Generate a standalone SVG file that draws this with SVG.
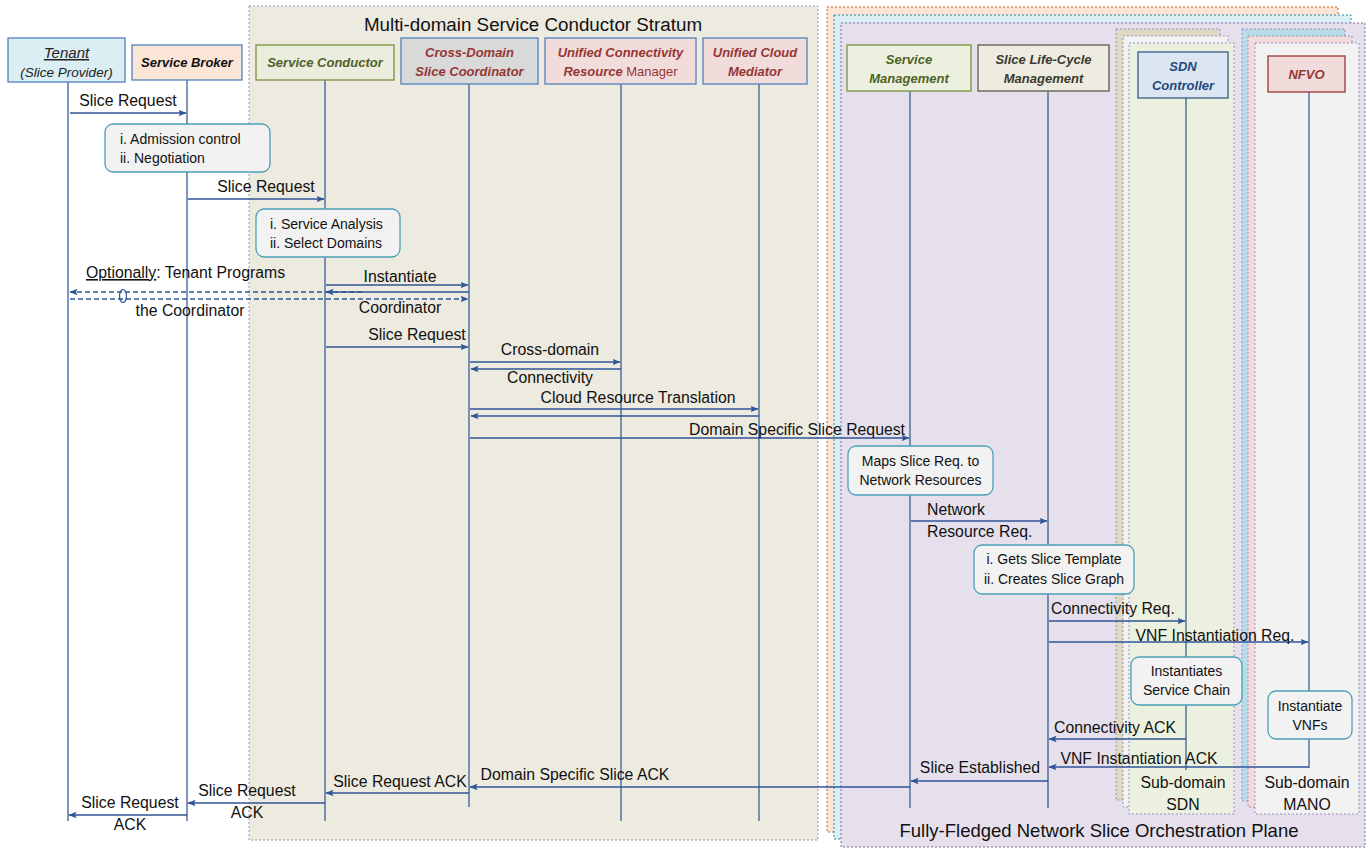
<svg xmlns="http://www.w3.org/2000/svg" width="1372" height="848" viewBox="0 0 1372 848">
<defs>
<marker id="ah" viewBox="0 0 8 8" refX="7.5" refY="4" markerWidth="8" markerHeight="8" markerUnits="userSpaceOnUse" orient="auto-start-reverse">
<path d="M0,0.8 L8,4 L0,7.2 L1.5,4 Z" fill="#2f5597"/>
</marker>
<style>
text{font-family:"Liberation Sans",Arial,sans-serif;}
.lbl{font-size:15.8px;fill:#111;}
.note{font-size:14px;fill:#111;}
.nt{font-size:13px;font-weight:bold;font-style:italic;}
.frame{stroke-dasharray:2,2;stroke-width:1;}
.life{stroke:#3a5f95;stroke-width:1.3;fill:none;}
.msg{stroke:#2f5597;stroke-width:1.3;fill:none;marker-end:url(#ah);}
.dash{stroke:#2f5597;stroke-width:1.3;fill:none;stroke-dasharray:5,3;marker-end:url(#ah);}
.nb{fill:#f2f2f2;stroke:#4aa0b8;stroke-width:1.3;}
</style>
</defs>
<rect width="1372" height="848" fill="#ffffff"/>

<!-- Stratum -->
<g id="stratum">
<rect x="249" y="6" width="569" height="834" fill="#edeae0" stroke="#9d8fc0" class="frame"/>
<text x="533" y="31" text-anchor="middle" font-size="18.8" fill="#111">Multi-domain Service Conductor Stratum</text>
</g>

<!-- Orchestration plane frames -->
<g id="plane">
<rect x="827" y="7" width="511" height="825" fill="#fbe5d6" stroke="#c55a11" class="frame"/>
<rect x="834" y="15" width="517" height="824" fill="#dbeef4" stroke="#31859c" class="frame"/>
<rect x="841" y="23" width="524" height="824" fill="#e5e0ec" stroke="#8064a2" class="frame"/>
<text x="1099" y="837" text-anchor="middle" font-size="18.5" fill="#111">Fully-Fledged Network Slice Orchestration Plane</text>
</g>

<g id="subdomain-sdn">
<rect x="1116" y="29" width="104" height="771" fill="#ddd9c3" stroke="#9d8fc0" class="frame"/>
<rect x="1123" y="36" width="105" height="771" fill="#f2f2f2" stroke="#9d8fc0" class="frame"/>
<rect x="1129" y="43" width="105" height="771" fill="#ebf1de" stroke="#9d8fc0" class="frame"/>
<text x="1183" y="788" text-anchor="middle" class="lbl">Sub-domain</text>
<text x="1183" y="810" text-anchor="middle" class="lbl">SDN</text>
</g>

<g id="subdomain-mano">
<rect x="1242" y="29" width="103" height="772" fill="#b7dde8" stroke="#9d8fc0" class="frame"/>
<rect x="1248" y="36" width="104" height="771" fill="#f2dcdb" stroke="#9d8fc0" class="frame"/>
<rect x="1255" y="43" width="104" height="771" fill="#f2f2f2" stroke="#9d8fc0" class="frame"/>
<text x="1307" y="788" text-anchor="middle" class="lbl">Sub-domain</text>
<text x="1307" y="810" text-anchor="middle" class="lbl">MANO</text>
</g>

<!-- Lifelines -->
<g id="lifelines">
<line class="life" x1="68" y1="81" x2="68" y2="821"/>
<line class="life" x1="187" y1="80" x2="187" y2="821"/>
<line class="life" x1="325" y1="80" x2="325" y2="821"/>
<line class="life" x1="469" y1="84" x2="469" y2="807"/>
<line class="life" x1="621" y1="84" x2="621" y2="821"/>
<line class="life" x1="759" y1="84" x2="759" y2="821"/>
<line class="life" x1="910" y1="91" x2="910" y2="808"/>
<line class="life" x1="1048" y1="91" x2="1048" y2="808"/>
<line class="life" x1="1186" y1="98" x2="1186" y2="770"/>
<line class="life" x1="1309" y1="92" x2="1309" y2="768"/>
</g>

<!-- Nodes -->
<g id="tenant">
<rect x="8" y="38" width="117" height="44" fill="#daeef3" stroke="#4f81bd" stroke-width="1.3"/>
<text x="66.5" y="58" text-anchor="middle" font-size="15" font-style="italic" fill="#222" text-decoration="underline">Tenant</text>
<text x="66.5" y="77" text-anchor="middle" font-size="13.5" font-style="italic" fill="#222">(Slice Provider)</text>
</g>
<g id="service-broker">
<rect x="132" y="45" width="110" height="35" fill="#fbe5d6" stroke="#4f81bd" stroke-width="1.3"/>
<text x="187" y="67" text-anchor="middle" class="nt" fill="#111">Service Broker</text>
</g>
<g id="service-conductor">
<rect x="256" y="45" width="138" height="35" fill="#ebedde" stroke="#76923c" stroke-width="1.3"/>
<text x="325" y="67" text-anchor="middle" class="nt" fill="#4f6228" font-weight="normal">Service Conductor</text>
</g>
<g id="cross-domain-slice-coordinator">
<rect x="401" y="38" width="137" height="46" fill="#d9d9d9" stroke="#4f81bd" stroke-width="1.3"/>
<text x="469.5" y="57" text-anchor="middle" class="nt" fill="#953735">Cross-Domain</text>
<text x="469.5" y="76" text-anchor="middle" class="nt" fill="#953735">Slice Coordinator</text>
</g>
<g id="unified-connectivity-resource-manager">
<rect x="545" y="38" width="151" height="46" fill="#f2dcdb" stroke="#4f81bd" stroke-width="1.3"/>
<text x="620.5" y="57" text-anchor="middle" class="nt" fill="#953735">Unified Connectivity</text>
<text x="620.5" y="76" text-anchor="middle" font-size="13" fill="#953735"><tspan font-weight="bold" font-style="italic">Resource</tspan> Manager</text>
</g>
<g id="unified-cloud-mediator">
<rect x="703" y="38" width="104" height="46" fill="#f2dcdb" stroke="#4f81bd" stroke-width="1.3"/>
<text x="755" y="57" text-anchor="middle" class="nt" fill="#953735">Unified Cloud</text>
<text x="755" y="76" text-anchor="middle" class="nt" fill="#953735">Mediator</text>
</g>
<g id="service-management">
<rect x="847" y="45" width="124" height="46" fill="#ebf1de" stroke="#76923c" stroke-width="1.3"/>
<text x="909" y="64" text-anchor="middle" class="nt" fill="#4f6228">Service</text>
<text x="909" y="83" text-anchor="middle" class="nt" fill="#4f6228">Management</text>
</g>
<g id="slice-life-cycle-management">
<rect x="978" y="45" width="131" height="46" fill="#eeece1" stroke="#5e5a4a" stroke-width="1.3"/>
<text x="1043.5" y="64" text-anchor="middle" class="nt" fill="#3b3a2e">Slice Life-Cycle</text>
<text x="1043.5" y="83" text-anchor="middle" class="nt" fill="#3b3a2e">Management</text>
</g>
<g id="sdn-controller">
<rect x="1138" y="52" width="90" height="46" fill="#dce6f2" stroke="#385d8a" stroke-width="1.3"/>
<text x="1183" y="71" text-anchor="middle" class="nt" fill="#1f497d">SDN</text>
<text x="1183" y="90" text-anchor="middle" class="nt" fill="#1f497d">Controller</text>
</g>
<g id="nfvo">
<rect x="1268" y="56" width="77" height="36" fill="#f2dcdb" stroke="#953735" stroke-width="1.3"/>
<text x="1306.5" y="79" text-anchor="middle" class="nt" fill="#953735">NFVO</text>
</g>

<!-- Notes -->
<g id="note-admission">
<rect class="nb" x="105" y="124" width="165" height="48" rx="8"/>
<text x="120" y="144" class="note">i. Admission control</text>
<text x="120" y="163" class="note">ii. Negotiation</text>
</g>
<g id="note-analysis">
<rect class="nb" x="256" y="209" width="144" height="48" rx="8"/>
<text x="270" y="229" class="note">i. Service Analysis</text>
<text x="270" y="248" class="note">ii. Select Domains</text>
</g>
<g id="note-maps">
<rect class="nb" x="848" y="446" width="145" height="49" rx="8"/>
<text x="920.5" y="466" text-anchor="middle" class="note">Maps Slice Req. to</text>
<text x="920.5" y="485" text-anchor="middle" class="note">Network Resources</text>
</g>
<g id="note-template">
<rect class="nb" x="974" y="545" width="160" height="49" rx="8"/>
<text x="1054" y="564" text-anchor="middle" class="note">i. Gets Slice Template</text>
<text x="1054" y="584" text-anchor="middle" class="note">ii. Creates Slice Graph</text>
</g>
<g id="note-chain">
<rect class="nb" x="1131" y="657" width="111" height="48" rx="8"/>
<text x="1186.5" y="676" text-anchor="middle" class="note">Instantiates</text>
<text x="1186.5" y="695" text-anchor="middle" class="note">Service Chain</text>
</g>
<g id="note-vnfs">
<rect class="nb" x="1268" y="691" width="84" height="48" rx="8"/>
<text x="1310" y="711" text-anchor="middle" class="note">Instantiate</text>
<text x="1310" y="730" text-anchor="middle" class="note">VNFs</text>
</g>

<!-- Connectors -->
<g id="connectors">
<line class="msg" x1="70" y1="113" x2="186" y2="113"/>
<line class="msg" x1="188" y1="199" x2="324" y2="199"/>
<line class="dash" x1="362" y1="292" x2="70" y2="292"/>
<line class="dash" x1="70" y1="299" x2="468" y2="299"/>
<ellipse cx="123" cy="296" rx="3.5" ry="6.5" fill="none" stroke="#2f5597" stroke-width="1.2"/>
<line class="msg" x1="326" y1="285" x2="468" y2="285"/>
<line class="msg" x1="469" y1="292" x2="326" y2="292"/>
<line class="msg" x1="326" y1="347" x2="468" y2="347"/>
<line class="msg" x1="470" y1="362" x2="620" y2="362"/>
<line class="msg" x1="621" y1="369" x2="471" y2="369"/>
<line class="msg" x1="470" y1="409" x2="758" y2="409"/>
<line class="msg" x1="759" y1="416" x2="471" y2="416"/>
<line class="msg" x1="470" y1="438" x2="909" y2="438"/>
<line class="msg" x1="911" y1="521" x2="1047" y2="521"/>
<line class="msg" x1="1049" y1="621" x2="1185" y2="621"/>
<line class="msg" x1="1049" y1="642" x2="1308" y2="642"/>
<line class="msg" x1="1186" y1="739" x2="1049" y2="739"/>
<line class="msg" x1="1309" y1="767" x2="1049" y2="767"/>
<line class="msg" x1="1048" y1="781" x2="911" y2="781"/>
<line class="msg" x1="910" y1="787" x2="470" y2="787"/>
<line class="msg" x1="469" y1="793" x2="326" y2="793"/>
<line class="msg" x1="325" y1="803" x2="188" y2="803"/>
<line class="msg" x1="187" y1="815" x2="69" y2="815"/>
</g>

<!-- Labels -->
<g id="labels">
<text x="128" y="106" text-anchor="middle" class="lbl">Slice Request</text>
<text x="266" y="192" text-anchor="middle" class="lbl">Slice Request</text>
<text x="86" y="278" class="lbl"><tspan text-decoration="underline">Optionally</tspan>: Tenant Programs</text>
<text x="190" y="316" text-anchor="middle" class="lbl">the Coordinator</text>
<text x="400" y="282" text-anchor="middle" class="lbl">Instantiate</text>
<text x="400" y="313" text-anchor="middle" class="lbl">Coordinator</text>
<text x="417" y="340" text-anchor="middle" class="lbl">Slice Request</text>
<text x="550" y="355" text-anchor="middle" class="lbl">Cross-domain</text>
<text x="550" y="383" text-anchor="middle" class="lbl">Connectivity</text>
<text x="638" y="403" text-anchor="middle" class="lbl">Cloud Resource Translation</text>
<text x="905" y="435" text-anchor="end" class="lbl">Domain Specific Slice Request</text>
<text x="927" y="515" class="lbl">Network</text>
<text x="927" y="537" class="lbl">Resource Req.</text>
<text x="1051" y="614" class="lbl">Connectivity Req.</text>
<text x="1215" y="641" text-anchor="middle" class="lbl">VNF Instantiation Req.</text>
<text x="1115" y="733" text-anchor="middle" class="lbl">Connectivity ACK</text>
<text x="1139" y="764" text-anchor="middle" class="lbl">VNF Instantiation ACK</text>
<text x="980" y="773" text-anchor="middle" class="lbl">Slice Established</text>
<text x="575" y="780" text-anchor="middle" class="lbl">Domain Specific Slice ACK</text>
<text x="400" y="787" text-anchor="middle" class="lbl">Slice Request ACK</text>
<text x="247" y="796" text-anchor="middle" class="lbl">Slice Request</text>
<text x="247" y="818" text-anchor="middle" class="lbl">ACK</text>
<text x="130" y="808" text-anchor="middle" class="lbl">Slice Request</text>
<text x="130" y="830" text-anchor="middle" class="lbl">ACK</text>
</g>
</svg>
